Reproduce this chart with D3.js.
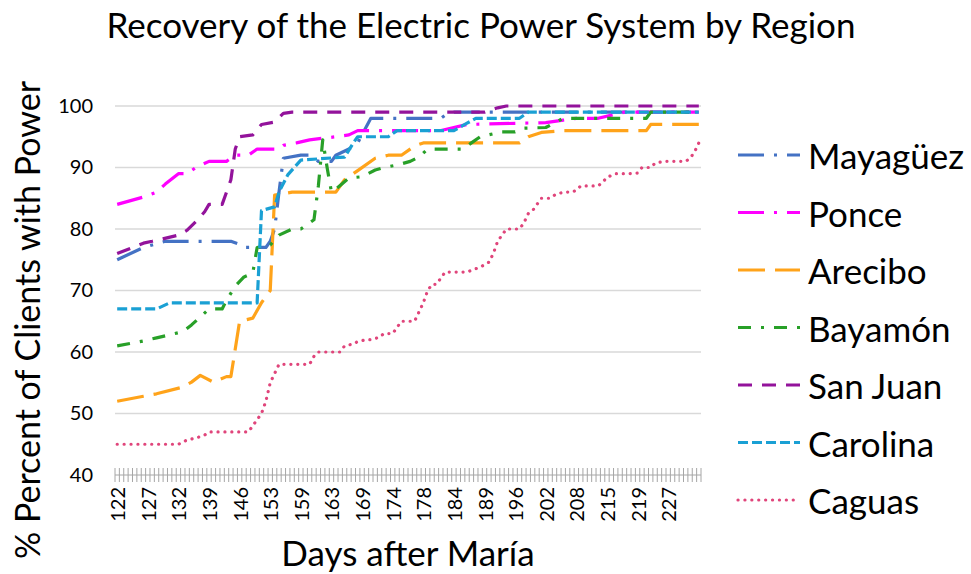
<!DOCTYPE html>
<html>
<head>
<meta charset="utf-8">
<script src="https://cdn.jsdelivr.net/npm/d3@7"></script>
<style>
  body { margin: 0; background: #fff; }
  text { font-family: Lato, "Open Sans", sans-serif; fill: #000; }
</style>
</head>
<body>
<div id="chart"></div>
<script>
// categories: one per reading, labels shown every 7th
var nCategories = 134;
var tickEvery = 7;
var tickLabels = [122, 127, 132, 139, 146, 153, 159, 163, 169, 174, 178, 184, 189, 196, 202, 208, 215, 219, 227];
var yTicks = [40, 50, 60, 70, 80, 90, 100];

// series: [category index, % with power]
var mayaguez = [[0,75],[6,77],[11,78],[26,78],[28,77.5],[29,77],[34,77],[35,78],[36,80],[37,86],[38,91.5],[42,92],[44,92],[46,91],[49,91],[50,92],[53,93],[55,94],[58,98],[74,98],[75,98.5],[77,99],[133,99]];
var ponce = [[0,84],[6,85.2],[9,86],[11,87.3],[14,89],[16,89],[18,90],[21,91],[25,91],[27,92],[30,92],[32,93],[37,93],[38,93.6],[41,94],[44,94.5],[50,95],[53,95.3],[55,96],[74,96],[80,97],[98,97.3],[102,97.7],[105,98],[110,98],[116,99],[133,99]];
var arecibo = [[0,52],[6,52.8],[9,53.2],[15,54.3],[17,55.1],[19,56.2],[22,55.1],[25,56],[26,56],[28,65],[31,65.5],[33,68],[35,70],[36,85.5],[40,86],[50,86],[52,88],[55,89.5],[59,91.5],[62,92],[65,92],[68,93.5],[70,94],[92,94],[94,95],[97,95.7],[102,96],[121,96],[122,97],[133,97]];
var bayamon = [[0,61],[6,61.8],[9,62.3],[12,62.8],[15,63.3],[17,64.4],[19,65.7],[21,67],[24,67],[25,68.4],[27,70.7],[29,72.2],[31,72.8],[32,77],[35,77.4],[37,79],[40,80],[42,80],[45,81.5],[46,87],[47,94.5],[48,90],[49,86],[50,86.5],[53,88.3],[56,88.5],[59,89.6],[61,90],[64,90.4],[67,91],[69,91.7],[71,93],[79,93],[81,94],[83,95],[88,95.8],[91,95.8],[93,96.4],[98,96.5],[102,98],[121,98],[122,99],[133,99]];
var sanJuan = [[0,76],[6,77.7],[8,78],[14,79],[16,79.8],[18,81.2],[20,82.8],[21,84],[24,84],[25,86],[26,88],[27,93],[28,95],[31,95.3],[33,97],[36,97.4],[38,98.8],[40,99],[84,99],[87,99.7],[89,100],[133,100]];
var carolina = [[0,67],[9,67],[12,68],[32,68],[33,83],[36,83.6],[37,86],[39,88.8],[42,91.2],[52,91.7],[54,94],[55,95],[62,95],[64,96],[77,96],[80,97.2],[82,98],[92,98],[94,99],[133,99]];
var caguas = [[0,45],[14,45],[16,45.7],[18,46],[20,46.5],[21,47],[30,47],[31,48],[33,50],[34,52],[35,55],[37,58],[44,58],[45,59.3],[46,60],[51,60],[52,61],[54,61.3],[55,61.7],[57,62],[58,62],[60,62.4],[61,63],[63,63],[64,64],[65,65],[68,65],[69,66.5],[70,68],[71,70],[72,71],[73,71],[75,73],[80,73],[83,73.8],[85,74.6],[86,76],[87,78],[88,79],[89,80],[92,80],[93,81],[94,82.5],[95,83],[96,84],[97,85],[99,85],[100,85.5],[102,86],[104,86],[105,86.3],[106,87],[110,87],[111,87.6],[112,88.4],[114,89],[117,89],[119,89.1],[120,90],[122,90],[123,90.7],[125,91],[130,91],[131,91.5],[132,92.5],[133,94]];

var series = [
  {name: "Mayagüez", data: mayaguez, color: "#4472C4", dash: "26,10,3,10", cap: "butt"},
  {name: "Ponce",    data: ponce,    color: "#FF00FF", dash: "26,10,3,10", cap: "butt"},
  {name: "Arecibo",  data: arecibo,  color: "#FFA31A", dash: "27,10",      cap: "butt"},
  {name: "Bayamón",  data: bayamon,  color: "#28A028", dash: "13,10,3,10", cap: "butt"},
  {name: "San Juan", data: sanJuan,  color: "#93139B", dash: "14,10",      cap: "butt"},
  {name: "Carolina", data: carolina, color: "#1AA0D4", dash: "10,4",       cap: "butt"},
  {name: "Caguas",   data: caguas,   color: "#E0457B", dash: "0.1,6.8",    cap: "round"}
];

var width = 971, height = 574;
var svg = d3.select("#chart")
  .append("svg")
    .attr("width", width)
    .attr("height", height);

var x = d3.scaleLinear()
  .domain([-0.5, nCategories - 0.5])
  .range([115, 701]);

var y = d3.scaleLinear()
  .domain([40, 100])
  .range([475, 106]);

// gridlines
svg.append("g")
  .selectAll("line")
  .data(yTicks.slice(1))
  .enter().append("line")
    .attr("x1", x.range()[0])
    .attr("x2", x.range()[1])
    .attr("y1", function(d) { return y(d); })
    .attr("y2", function(d) { return y(d); })
    .attr("stroke", "#d9d9d9")
    .attr("stroke-width", 1.5);

// y axis labels
var yAxis = svg.append("g")
  .attr("transform", "translate(" + (x.range()[0] - 22) + ",0)")
  .call(d3.axisLeft(y).tickValues(yTicks).tickSize(0).tickPadding(0));
yAxis.select(".domain").remove();
yAxis.selectAll("text")
  .attr("font-family", "Lato, sans-serif")
  .attr("font-size", 20)
  .attr("fill", "#000");

// x axis: line plus crossing ticks at every category boundary
svg.append("line")
  .attr("x1", x.range()[0])
  .attr("x2", x.range()[1])
  .attr("y1", y(40))
  .attr("y2", y(40))
  .attr("stroke", "#a6a6a6")
  .attr("stroke-width", 1);

svg.append("g")
  .selectAll("line")
  .data(d3.range(nCategories + 1))
  .enter().append("line")
    .attr("x1", function(d) { return x(d - 0.5); })
    .attr("x2", function(d) { return x(d - 0.5); })
    .attr("y1", y(40) - 7)
    .attr("y2", y(40) + 7)
    .attr("stroke", "#a6a6a6")
    .attr("stroke-width", 1);

svg.append("g")
  .selectAll("text")
  .data(tickLabels)
  .enter().append("text")
    .attr("transform", function(d, i) {
      return "translate(" + x(i * tickEvery) + "," + (y(40) + 12) + ") rotate(-90)";
    })
    .attr("text-anchor", "end")
    .attr("dominant-baseline", "central")
    .attr("font-size", 20)
    .text(function(d) { return d; });

// lines
var line = d3.line()
  .x(function(d) { return x(d[0]); })
  .y(function(d) { return y(d[1]); });

svg.append("g")
  .selectAll("path")
  .data(series)
  .enter().append("path")
    .attr("d", function(d) { return line(d.data); })
    .attr("fill", "none")
    .attr("stroke", function(d) { return d.color; })
    .attr("stroke-width", 3.2)
    .attr("stroke-dasharray", function(d) { return d.dash; })
    .attr("stroke-linecap", function(d) { return d.cap; })
    .attr("stroke-linejoin", "round");

// legend
var legend = svg.append("g")
  .selectAll("g")
  .data(series)
  .enter().append("g")
    .attr("transform", function(d, i) { return "translate(738," + (155 + i * 57.5) + ")"; });

legend.append("line")
  .attr("x1", 0)
  .attr("x2", 62)
  .attr("stroke", function(d) { return d.color; })
  .attr("stroke-width", 3.2)
  .attr("stroke-dasharray", function(d) { return d.dash; })
  .attr("stroke-linecap", function(d) { return d.cap; });

legend.append("text")
  .attr("x", 70)
  .attr("dominant-baseline", "central")
  .attr("font-size", 35)
  .text(function(d) { return d.name; });

// titles
svg.append("text")
  .attr("x", 481)
  .attr("y", 38)
  .attr("text-anchor", "middle")
  .attr("font-size", 35)
  .text("Recovery of the Electric Power System by Region");

svg.append("text")
  .attr("x", 408)
  .attr("y", 566)
  .attr("text-anchor", "middle")
  .attr("font-size", 35)
  .text("Days after María");

svg.append("text")
  .attr("transform", "translate(40,320) rotate(-90)")
  .attr("text-anchor", "middle")
  .attr("font-size", 34)
  .text("% Percent of Clients with Power");
</script>
</body>
</html>
